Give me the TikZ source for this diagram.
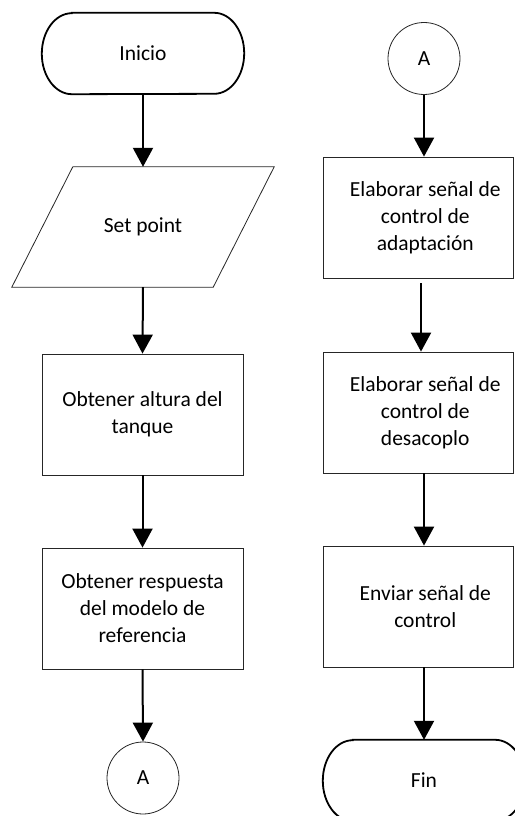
\documentclass[tikz,border=0pt]{standalone}
\usepackage{fontspec}
\setmainfont{Carlito}
\usetikzlibrary{arrows.meta,calc}
\begin{document}
\begin{tikzpicture}[x=1pt,y=1pt,
  box/.style={draw=black!85, line width=0.8pt, minimum width=201pt, minimum height=121pt, inner sep=0pt},
  txt/.style={align=center, font=\fontsize{21.5}{27}\selectfont, text=black},
  conn/.style={draw=black!85, line width=0.8pt, circle, minimum size=72pt, inner sep=0pt},
  termnode/.style={minimum width=202pt, minimum height=81pt, inner sep=0pt},
  term/.style={line width=1.8pt},
  arr/.style={line width=2pt, -{Triangle[width=20pt,length=19pt]}}]
\useasboundingbox (0,0) rectangle (514,-816);

% left column
\node[termnode, txt] (ini) at (143,-53.5) {Inicio};
\draw[term] ([xshift=30pt]ini.north west) -- ([xshift=-30pt]ini.north east)
  arc[start angle=90, end angle=-90, x radius=30pt, y radius=40.5pt]
  -- ([xshift=30pt]ini.south west)
  arc[start angle=270, end angle=90, x radius=30pt, y radius=40.5pt] -- cycle;

\node[minimum width=262pt, minimum height=120pt, inner sep=0pt, txt] (sp) at (143,-227) {Set point};
\draw[line width=0.8pt, draw=black!85] ([xshift=61pt]sp.north west) -- (sp.north east)
  -- ([xshift=-61pt]sp.south east) -- (sp.south west) -- cycle;

\node[box, txt] (r1) at (142.5,-414.5) {Obtener altura del\\tanque};
\node[box, txt] (r2) at (142.5,-608.5) {Obtener respuesta\\del modelo de\\referencia};
\node[conn, txt] (ca) at (143,-778) {A};

\draw[arr] (ini.south) -- (sp.north);
\draw[arr] (sp.south) -- (r1.north);
\draw[arr] (r1.south) -- (r2.north);
\draw[arr] (r2.south) -- (ca.north);

% right column
\node[conn, txt] (cb) at (424,-58.5) {A};
\node[box, minimum width=190.5pt] (q1) at (418.25,-217.5) {};
\node[txt] (q1t) at ([xshift=7pt]q1.center) {Elaborar señal de\\control de\\adaptación};
\node[box, minimum width=190.5pt] (q2) at (418.25,-412.5) {};
\node[txt] (q2t) at ([xshift=7pt]q2.center) {Elaborar señal de\\control de\\desacoplo};
\node[box, minimum width=190.5pt] (q3) at (418.25,-606.5) {};
\node[txt] (q3t) at ([xshift=7pt]q3.center) {Enviar señal de\\control};

\node[termnode, txt] (fin) at (424,-780.5) {Fin};
\draw[term] ([xshift=30pt]fin.north west) -- ([xshift=-30pt]fin.north east)
  arc[start angle=90, end angle=-90, x radius=30pt, y radius=40.5pt]
  -- ([xshift=30pt]fin.south west)
  arc[start angle=270, end angle=90, x radius=30pt, y radius=40.5pt] -- cycle;

\draw[arr] (cb.south) -- (q1.north -| cb.south);
\draw[arr] ($(q1.south -| cb.south)+(-3,-5)$) -- ($(q2.north -| cb.south)+(-3,0)$);
\draw[arr] (q2.south -| cb.south) -- (q3.north -| cb.south);
\draw[arr] (q3.south -| cb.south) -- (fin.north);
\end{tikzpicture}
\end{document}
